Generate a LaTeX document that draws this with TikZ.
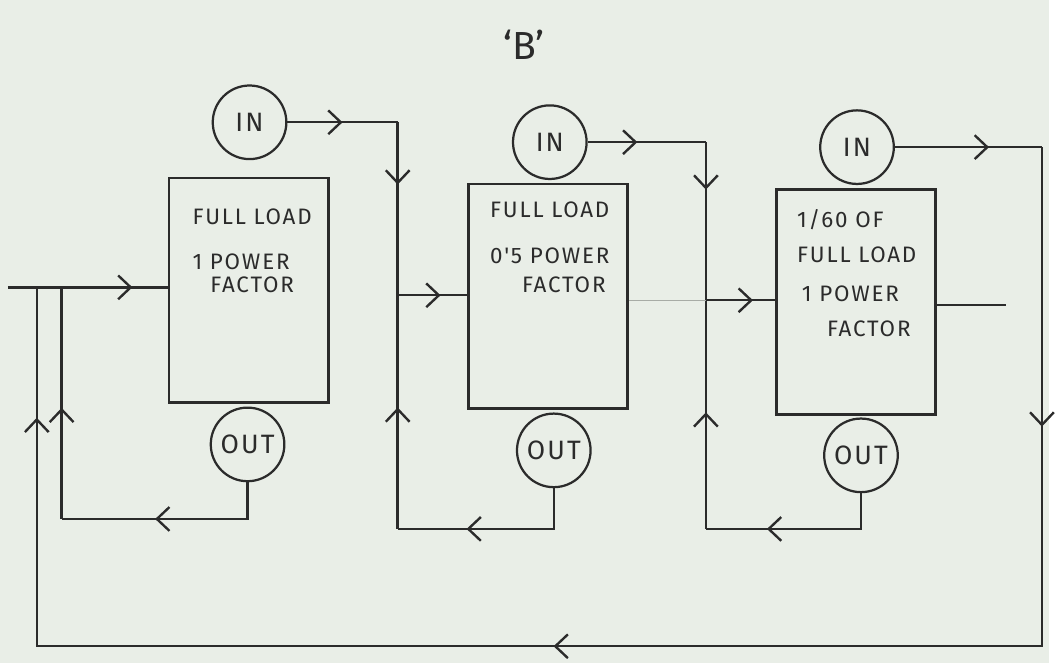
\documentclass[tikz,border=0pt]{standalone}
\usepackage{fontspec}
\setmainfont{Fira Sans}
\newfontfamily\hand[LetterSpace=8]{Fira Sans}
\usetikzlibrary{arrows.meta,positioning,calc,decorations.markings}
\definecolor{ink}{HTML}{2B2B2B}
\definecolor{paper}{HTML}{E9EEE7}
\definecolor{faint}{HTML}{A8ACA6}
\tikzset{loadbox/.style={draw=ink,line width=2pt,minimum width=4cm,minimum height=5.65cm,inner sep=0pt},
 meter/.style={draw=ink,circle,line width=1.6pt,minimum size=1.85cm,inner sep=0pt,
 font=\hand\fontsize{19}{21}\selectfont,text=ink},
 boxtext/.style={anchor=north west,align=left,inner sep=0pt,font=\hand\fontsize{16}{20}\selectfont,text=ink},
 wire/.style={draw=ink,line width=1.7pt},
 arrowat/.style={postaction={decorate,decoration={markings,
 mark=at position #1 with {\arrow{Straight Barb[length=9pt,width=17pt]}}}}}}

\begin{document}
\begin{tikzpicture}[x=0.025cm,y=-0.025cm]
\fill[paper] (0,0) rectangle (1055,667);
\node[font=\fontsize{28}{30}\selectfont,text=ink] (ttl) at (527,45) {`B'};
% load boxes and meters
\node[loadbox] (b1) at (250,292) {};
\node[loadbox] (b2) at (551,298) {};
\node[loadbox] (b3) at (861,304) {};
\node[boxtext] (t1) at ([xshift=0.62cm,yshift=-0.8cm]b1.north west)
 {FULL LOAD\\[12pt]1 POWER\\[-3pt]\hspace{0.45cm}FACTOR};
\node[boxtext] (t2) at ([xshift=0.58cm,yshift=-0.47cm]b2.north west)
 {FULL LOAD\\[13pt]0'5 POWER\\[1pt]\hspace{0.8cm}FACTOR};
\node[boxtext] (t3) at ([xshift=0.55cm,yshift=-0.52cm]b3.north west)
 {1/60 OF\\[5pt]FULL LOAD\\[8pt]\hspace{0.12cm}1 POWER\\[5pt]\hspace{0.75cm}FACTOR};
\node[meter] (in1) at (251,123) {IN};
\node[meter] (out1) at (249,447) {OUT};
\node[meter] (in2) at (553,143) {IN};
\node[meter] (out2) at (557,453) {OUT};
\node[meter] (in3) at (862,148) {IN};
\node[meter] (out3) at (866,458) {OUT};
% junctions
\coordinate (src) at (8,289);
\coordinate (j1) at (37,289);
\coordinate (j2) at (62,289);
\coordinate (r1) at (62,522);
\coordinate (k1) at (400,123);
\coordinate (m1) at (400,297);
\coordinate (c1) at (400,532);
\coordinate (k2) at (710,143);
\coordinate (m2) at (710,302);
\coordinate (c2) at (710,532);
\coordinate (k3) at (1048,148);
\coordinate (c4) at (1048,650);
\coordinate (c0) at (37,650);
\coordinate (o3) at (1012,307);
% wiring
\draw[wire,arrowat=0.78] (src) -- (src -| b1.west);
\draw[wire,arrowat=0.58] (out1.south) |- (r1);
\draw[wire,arrowat=0.48] (r1) -- (j2);
\draw[wire,arrowat=0.5] (in1.east) -- (k1);
\draw[wire,arrowat=0.36] (k1) -- (m1);
\draw[wire,arrowat=0.52] (c1) -- (m1);
\draw[wire,arrowat=0.65] (out2.south) |- (c1);
\draw[wire,arrowat=0.62] (m1) -- (m1 -| b2.west);
\draw[wire,arrowat=0.42] (in2.east) -- (k2);
\draw[wire,arrowat=0.3] (k2) -- (m2);
\draw[wire,arrowat=0.51] (c2) -- (m2);
\draw[wire,arrowat=0.68] (out3.south) |- (c2);
\draw[wire,arrowat=0.68] (m2) -- (m2 -| b3.west);
\draw[faint,line width=0.8pt] (b2.east |- m2) -- (m2);
\draw[wire] (b3.east |- o3) -- (o3);
\draw[wire,arrowat=0.64] (in3.east) -- (k3);
\draw[wire,arrowat=0.15,arrowat=0.53,arrowat=0.93] (k3) -- (c4) -- (c0) -- (j1);
\end{tikzpicture}
\end{document}
